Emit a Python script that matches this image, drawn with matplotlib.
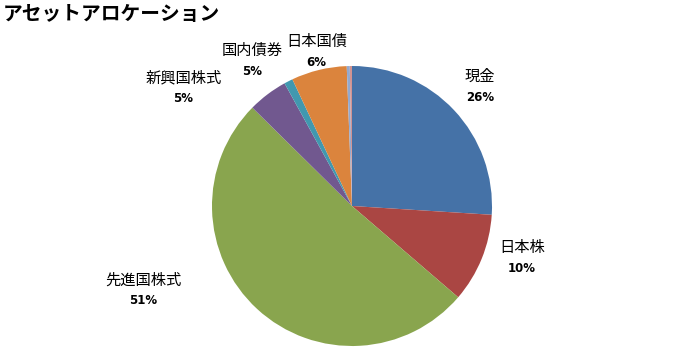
import numpy as np
import matplotlib
matplotlib.use('Agg')
import matplotlib.pyplot as plt

plt.rcParams['font.family'] = ['Noto Sans CJK JP', 'DejaVu Sans']

# データ（時計回り、真上から）
categories = ['現金', '日本株', '先進国株式', '新興国株式', '国内債券', '日本国債', 'その他1', 'その他2']
shares = [26.0, 10.3, 51.1, 4.6, 1.0, 6.4, 0.35, 0.25]
pct_labels = ['26%', '10%', '51%', '5%', '5%', '6%', '', '']
colors = ['#4572A7', '#AA4643', '#89A54E', '#71588F', '#4198AF', '#DB843D', '#93A9CF', '#D19392']

# ラベル位置（角度, 半径）
label_pos = [(43, 1.25), (-17, 1.27), (202, 1.61), (145, 1.47), (124.5, 1.26), (103, 1.13), None, None]

fig = plt.figure(figsize=(6.75, 3.59), dpi=100)
W, H = 675, 359
cx, cy, r = 352, 359 - 206, 140
ax = fig.add_axes([(cx - r) / W, (cy - r) / H, 2 * r / W, 2 * r / H])

ax.pie(shares, colors=colors, startangle=90, counterclock=False, radius=1,
       wedgeprops=dict(linewidth=0))
ax.set_xlim(-1, 1)
ax.set_ylim(-1, 1)
ax.set_aspect('equal')
ax.axis('off')

for name, pct, pos in zip(categories, pct_labels, label_pos):
    if pos is None:
        continue
    ang, dist = pos
    x = dist * np.cos(np.radians(ang))
    y = dist * np.sin(np.radians(ang))
    ax.text(x, y + 0.075, name, ha='center', va='center', fontsize=11, clip_on=False)
    ax.text(x, y - 0.075, pct, ha='center', va='center', fontsize=8.5,
            fontweight='bold', family='DejaVu Sans', clip_on=False)

fig.text(3 / W, 1 - 14 / H, 'アセットアロケーション', fontsize=14.2, fontweight='bold',
         ha='left', va='center')

fig.savefig('out.png', dpi=100)
plt.close(fig)
